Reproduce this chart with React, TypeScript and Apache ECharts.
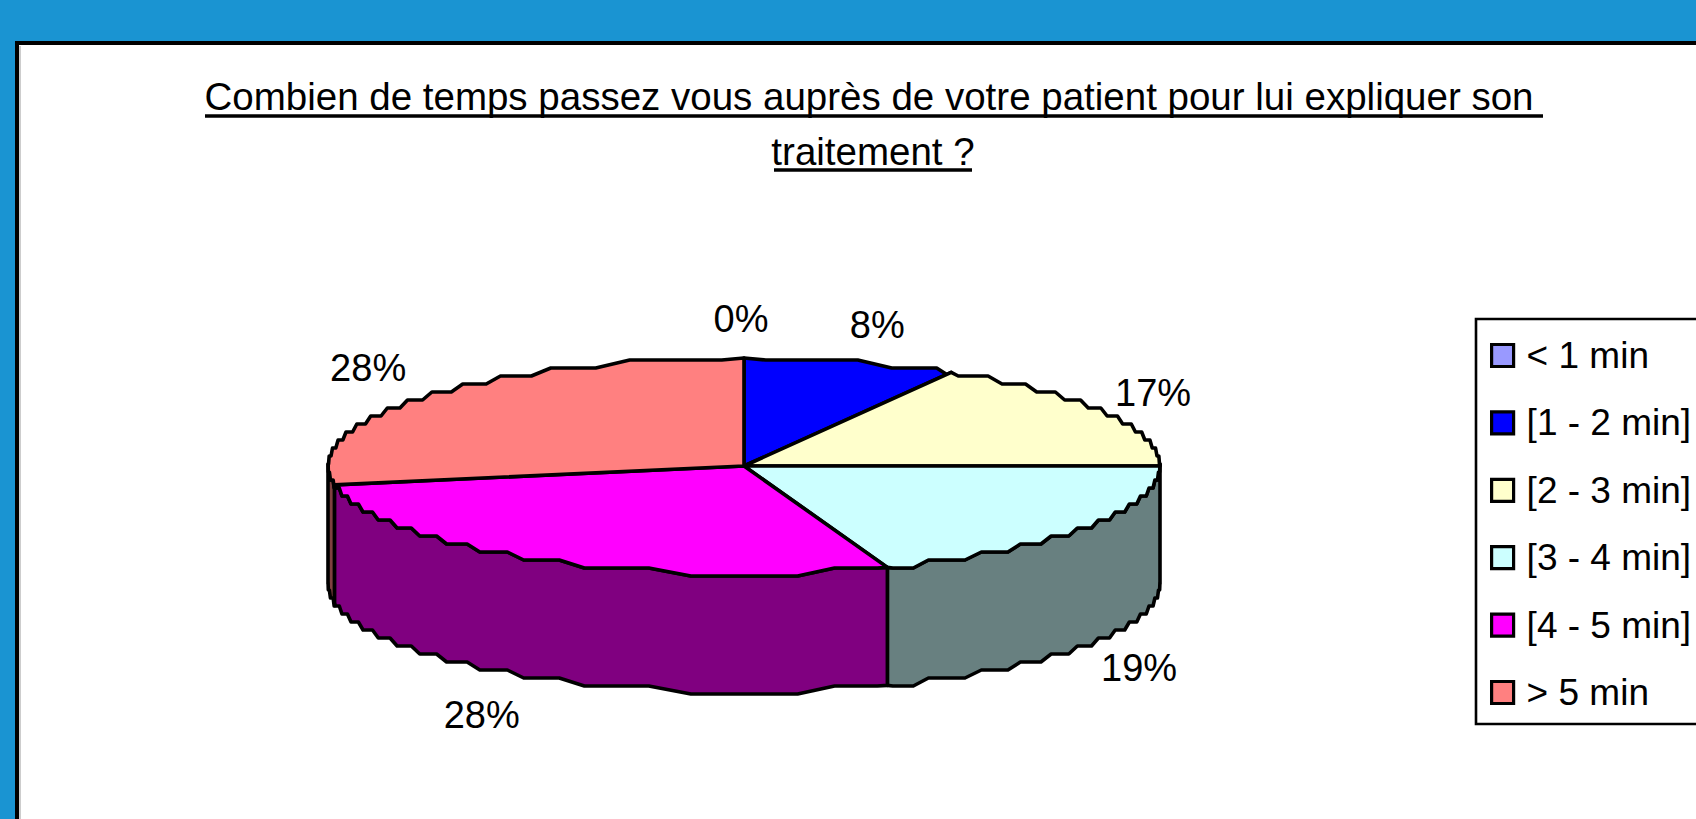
import React, { useEffect, useRef } from "react";
import * as echarts from "echarts";

const categories = ["< 1 min", "[1 - 2 min]", "[2 - 3 min]", "[3 - 4 min]", "[4 - 5 min]", "> 5 min"];
const percentages = [0, 8.3, 16.7, 19.4, 27.8, 27.8];
const topColors = ["#9999FF", "#0000FF", "#FFFFCC", "#CCFFFF", "#FF00FF", "#FF8080"];
const sideColors = ["#4C4C80", "#000080", "#808066", "#688080", "#800080", "#804040"];
const titleLine1 = "Combien de temps passez vous auprès de votre patient pour lui expliquer son";
const titleLine2 = "traitement ?";

// layout of the pie
const CX = 744, CY = 466, RX = 416, RY = 108, DEPTH = 118, GRID = 8;
const labelOffsets = [[-3, -39], [26, -37], [49, -19], [54, 22], [-55, 37], [-57, -29]];
const FONT = '38px "Liberation Sans", Arial, sans-serif';
const SANS = '"Liberation Sans", Arial, sans-serif';

const total = percentages.reduce((a, b) => a + b, 0);
const rad = (d: number) => (d * Math.PI) / 180;
const at = (deg: number, dy = 0): [number, number] => [
  CX + RX * Math.sin(rad(deg)),
  CY - RY * Math.cos(rad(deg)) + dy,
];

// The reference outline is a coarse, bumpy polygon: flat runs joined by short diagonals.
function arc(a: number, b: number, dy = 0): number[][] {
  if (b <= a) return [at(a, dy)];
  const runs: { y: number; x1: number; x2: number }[] = [];
  for (let d = a; d <= b; d += 0.25) {
    const p = at(d);
    const y = Math.round(p[1] / GRID) * GRID;
    const run = runs[runs.length - 1];
    if (run && run.y === y) run.x2 = p[0];
    else runs.push({ y, x1: p[0], x2: p[0] });
  }
  const pts: number[][] = [at(a, dy)];
  runs.forEach((r) => {
    const trim = (r.x2 - r.x1) * 0.16;
    pts.push([r.x1 + trim, r.y + dy], [r.x2 - trim, r.y + dy]);
  });
  pts.push(at(b, dy));
  return pts;
}

function renderSlice(params: any, api: any) {
  const start = api.value(0);
  const end = api.value(1);
  const idx = params.seriesIndex;
  const children: any[] = [];
  const sa = Math.max(start, 90);
  const sb = Math.min(end, 270);
  const line = { stroke: "#000", lineWidth: 3.6, lineJoin: "round" };
  if (sb > sa) {
    const upper = arc(sa, sb, 0);
    const lower = arc(sa, sb, DEPTH).reverse();
    children.push({
      type: "polygon",
      shape: { points: [...upper, ...lower] },
      style: { fill: sideColors[idx], ...line },
    });
  }
  if (end > start) {
    children.push({
      type: "polygon",
      shape: { points: [[CX, CY], ...arc(start, end, 0)] },
      style: { fill: topColors[idx], ...line },
    });
  }
  const mid = (start + end) / 2;
  const anchor = at(mid, mid > 90 && mid < 270 ? DEPTH : 0);
  children.push({
    type: "text",
    x: anchor[0] + labelOffsets[idx][0],
    y: anchor[1] + labelOffsets[idx][1],
    style: {
      text: Math.round((api.value(2) / total) * 100) + "%",
      fill: "#000",
      font: FONT,
      align: "center",
      verticalAlign: "middle",
    },
  });
  return { type: "group", children };
}

export default function App() {
  const ref = useRef<HTMLDivElement>(null);
  useEffect(() => {
    const chart = echarts.init(ref.current!, null, { renderer: "svg" });
    let cum = 0;
    const series = categories.map((name, i) => {
      const start = (cum / total) * 360;
      cum += percentages[i];
      const end = (cum / total) * 360;
      return {
        type: "custom",
        name,
        coordinateSystem: "none",
        renderItem: renderSlice,
        data: [[start, end, percentages[i]]],
        itemStyle: { color: topColors[i] },
        silent: true,
        z: 3,
      };
    });
    const titleStyle = { fontFamily: SANS, fontSize: 38.5, fontWeight: "normal", color: "#000" };
    chart.setOption({
      animation: false,
      backgroundColor: "#1A94D2",
      color: topColors,
      title: [
        { text: titleLine1, left: 869, top: 77, textAlign: "center", padding: 0, textStyle: titleStyle },
        { text: titleLine2, left: 873, top: 132, textAlign: "center", padding: 0, textStyle: titleStyle },
      ],
      legend: {
        orient: "vertical",
        left: 1490,
        top: 335,
        padding: 0,
        itemWidth: 22,
        itemHeight: 22,
        itemGap: 26.4,
        icon: "rect",
        selectedMode: false,
        itemStyle: { borderColor: "#000", borderWidth: 3.2 },
        textStyle: {
          fontFamily: SANS,
          fontSize: 37,
          color: "#000",
          padding: [0, 0, 0, 8],
          lineHeight: 41,
        },
        data: categories,
      },
      graphic: {
        elements: [
          { type: "rect", z: 0, shape: { x: 17, y: 43, width: 1800, height: 900 }, style: { fill: "#fff", stroke: "#000", lineWidth: 4 } },
          { type: "line", z: 1, shape: { x1: 20, y1: 46, x2: 20, y2: 900 }, style: { stroke: "#BDBDBD", lineWidth: 1.5 } },
          { type: "rect", z: 1, shape: { x: 1476, y: 319, width: 400, height: 405 }, style: { fill: "#fff", stroke: "#000", lineWidth: 2.6 } },
          { type: "line", z: 1, shape: { x1: 205, y1: 116, x2: 1543, y2: 116 }, style: { stroke: "#000", lineWidth: 3.5 } },
          { type: "line", z: 1, shape: { x1: 774, y1: 170, x2: 972, y2: 170 }, style: { stroke: "#000", lineWidth: 3.5 } },
        ],
      },
      series,
    });
    return () => chart.dispose();
  }, []);
  return <div ref={ref} style={{ position: "fixed", left: 0, top: 0, width: 1696, height: 819 }} />;
}
